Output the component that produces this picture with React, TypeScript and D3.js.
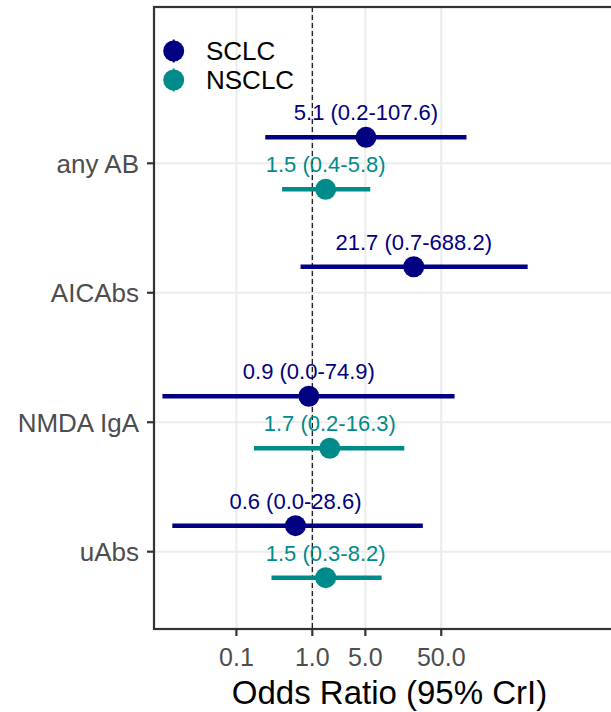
import React, { useEffect, useRef } from "react";
import * as d3 from "d3";

// categories top to bottom
const categories = ["any AB", "AICAbs", "NMDA IgA", "uAbs"];

// SCLC estimates
const sclcEst = [5.1, 21.7, 0.9, 0.6];
const sclcLo = [0.24, 0.7, 0.0106, 0.0143];
const sclcHi = [107.6, 688.2, 74.9, 28.6];

// NSCLC estimates (AICAbs missing)
const nsclcEst = [1.5, null, 1.7, 1.5];
const nsclcLo = [0.4, null, 0.17, 0.29];
const nsclcHi = [5.8, null, 16.3, 8.2];

const xTicks = [0.1, 1, 5, 50];
const xTickLabels = ["0.1", "1.0", "5.0", "50.0"];

const groups = [
  { name: "SCLC", color: "#000080", est: sclcEst, lo: sclcLo, hi: sclcHi, offset: -26 },
  { name: "NSCLC", color: "#008B8B", est: nsclcEst, lo: nsclcLo, hi: nsclcHi, offset: 26 },
];

const FONT = "'Liberation Sans', Arial, sans-serif";

function App() {
  const ref = useRef<SVGSVGElement>(null);

  useEffect(() => {
    const width = 611;
    const height = 712;
    const panel = { left: 154, right: 625, top: 7, bottom: 629 };

    const svg = d3.select(ref.current);
    svg.selectAll("*").remove();
    svg.attr("width", width).attr("height", height);

    const x = d3
      .scaleLog()
      .domain([0.0082, 13200])
      .range([panel.left, panel.right]);

    const y = d3
      .scalePoint<string>()
      .domain(categories)
      .range([163.3, 551.7]);

    const fmt = (v: number) => v.toFixed(1);

    // panel background
    svg
      .append("rect")
      .attr("x", panel.left)
      .attr("y", panel.top)
      .attr("width", panel.right - panel.left)
      .attr("height", panel.bottom - panel.top)
      .attr("fill", "#ffffff");

    // grid
    svg
      .selectAll(".gx")
      .data(xTicks)
      .enter()
      .append("line")
      .attr("x1", (d) => x(d))
      .attr("x2", (d) => x(d))
      .attr("y1", panel.top)
      .attr("y2", panel.bottom)
      .attr("stroke", "#ebebeb")
      .attr("stroke-width", 2);

    svg
      .selectAll(".gy")
      .data(categories)
      .enter()
      .append("line")
      .attr("x1", panel.left)
      .attr("x2", panel.right)
      .attr("y1", (d) => y(d)!)
      .attr("y2", (d) => y(d)!)
      .attr("stroke", "#ebebeb")
      .attr("stroke-width", 2);

    // reference line at OR = 1
    svg
      .append("line")
      .attr("x1", x(1))
      .attr("x2", x(1))
      .attr("y1", panel.top)
      .attr("y2", panel.bottom)
      .attr("stroke", "#111")
      .attr("stroke-width", 1.2)
      .attr("stroke-dasharray", "5,3");

    // point ranges + labels
    groups.forEach((g) => {
      const rows = categories
        .map((c, i) => ({ c, est: g.est[i], lo: g.lo[i], hi: g.hi[i] }))
        .filter((r) => r.est !== null);

      const grp = svg.append("g");

      grp
        .selectAll("line")
        .data(rows)
        .enter()
        .append("line")
        .attr("x1", (d) => x(d.lo as number))
        .attr("x2", (d) => x(d.hi as number))
        .attr("y1", (d) => y(d.c)! + g.offset)
        .attr("y2", (d) => y(d.c)! + g.offset)
        .attr("stroke", g.color)
        .attr("stroke-width", 4.5);

      grp
        .selectAll("circle")
        .data(rows)
        .enter()
        .append("circle")
        .attr("cx", (d) => x(d.est as number))
        .attr("cy", (d) => y(d.c)! + g.offset)
        .attr("r", 10.5)
        .attr("fill", g.color);

      grp
        .selectAll("text")
        .data(rows)
        .enter()
        .append("text")
        .attr("x", (d) => x(d.est as number))
        .attr("y", (d) => y(d.c)! + g.offset - 17)
        .attr("text-anchor", "middle")
        .attr("font-family", FONT)
        .attr("font-size", 22)
        .attr("fill", g.color)
        .text(
          (d) =>
            `${fmt(d.est as number)} (${fmt(d.lo as number)}-${fmt(d.hi as number)})`
        );
    });

    // panel border
    svg
      .append("rect")
      .attr("x", panel.left)
      .attr("y", panel.top)
      .attr("width", panel.right - panel.left)
      .attr("height", panel.bottom - panel.top)
      .attr("fill", "none")
      .attr("stroke", "#333333")
      .attr("stroke-width", 2.2);

    // y axis ticks and labels
    categories.forEach((c) => {
      svg
        .append("line")
        .attr("x1", panel.left - 7)
        .attr("x2", panel.left)
        .attr("y1", y(c)!)
        .attr("y2", y(c)!)
        .attr("stroke", "#333333")
        .attr("stroke-width", 2.2);
      svg
        .append("text")
        .attr("x", 139)
        .attr("y", y(c)! + 9.5)
        .attr("text-anchor", "end")
        .attr("font-family", FONT)
        .attr("font-size", 26)
        .attr("fill", "#4d4d4d")
        .text(c);
    });

    // x axis ticks and labels
    xTicks.forEach((t, i) => {
      svg
        .append("line")
        .attr("x1", x(t))
        .attr("x2", x(t))
        .attr("y1", panel.bottom)
        .attr("y2", panel.bottom + 7)
        .attr("stroke", "#333333")
        .attr("stroke-width", 2.2);
      svg
        .append("text")
        .attr("x", x(t))
        .attr("y", 665.5)
        .attr("text-anchor", "middle")
        .attr("font-family", FONT)
        .attr("font-size", 25)
        .attr("fill", "#4d4d4d")
        .text(xTickLabels[i]);
    });

    // x axis title
    svg
      .append("text")
      .attr("x", (panel.left + panel.right) / 2)
      .attr("y", 703.5)
      .attr("text-anchor", "middle")
      .attr("font-family", FONT)
      .attr("font-size", 33)
      .attr("fill", "#000000")
      .text("Odds Ratio (95% CrI)");

    // legend
    groups.forEach((g, i) => {
      const ly = 51 + i * 29;
      svg
        .append("line")
        .attr("x1", 173.7)
        .attr("x2", 173.7)
        .attr("y1", ly - 11.5)
        .attr("y2", ly + 11.5)
        .attr("stroke", g.color)
        .attr("stroke-width", 2);
      svg
        .append("circle")
        .attr("cx", 173.7)
        .attr("cy", ly)
        .attr("r", 10.5)
        .attr("fill", g.color);
      svg
        .append("text")
        .attr("x", 206)
        .attr("y", ly + 9)
        .attr("font-family", FONT)
        .attr("font-size", 26)
        .attr("fill", "#000000")
        .text(g.name);
    });
  }, []);

  return (
    <svg
      ref={ref}
      style={{ position: "absolute", left: 0, top: 0, display: "block" }}
    ></svg>
  );
}

export default App;
